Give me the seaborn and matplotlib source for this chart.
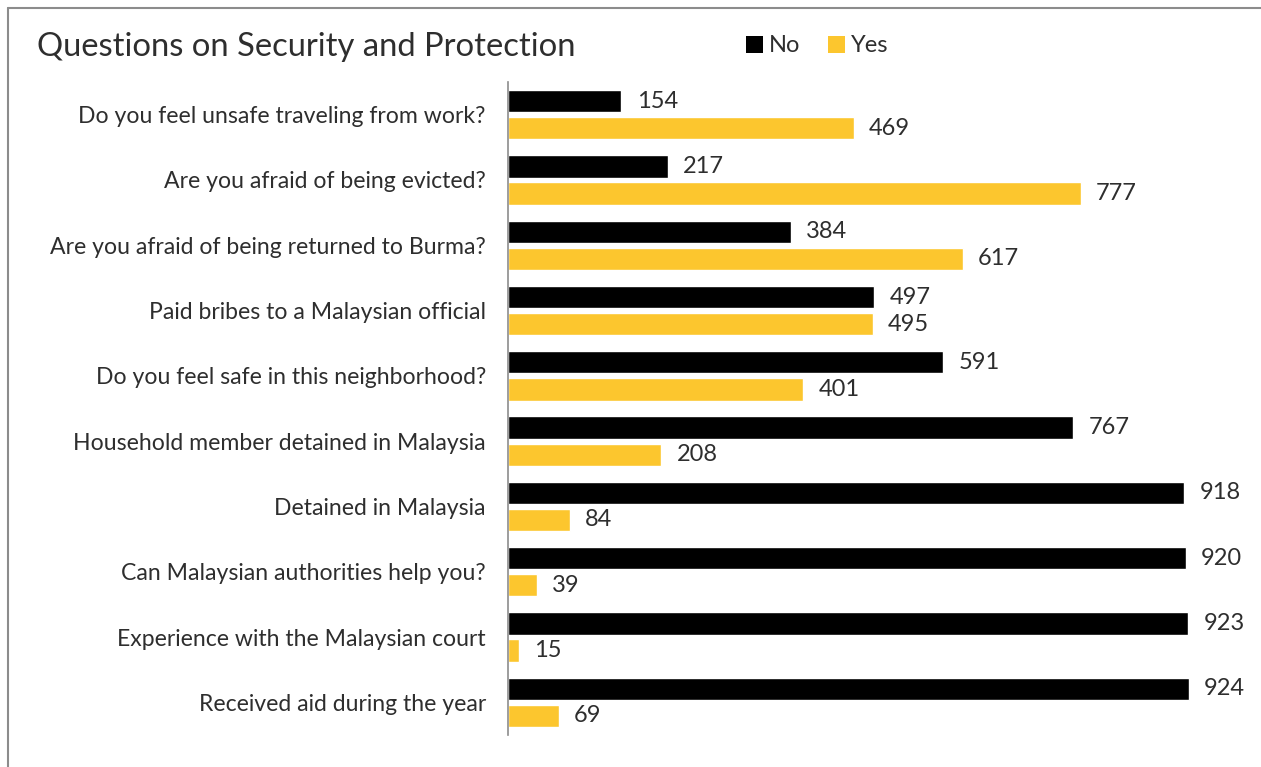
import matplotlib
matplotlib.use("Agg")
import matplotlib.pyplot as plt
from matplotlib.patches import Patch
from matplotlib.lines import Line2D
import seaborn as sns
import pandas as pd

questions = [
    "Do you feel unsafe traveling from work?",
    "Are you afraid of being evicted?",
    "Are you afraid of being returned to Burma?",
    "Paid bribes to a Malaysian official",
    "Do you feel safe in this neighborhood?",
    "Household member detained in Malaysia",
    "Detained in Malaysia",
    "Can Malaysian authorities help you?",
    "Experience with the Malaysian court",
    "Received aid during the year",
]
no_counts = [154, 217, 384, 497, 591, 767, 918, 920, 923, 924]
yes_counts = [469, 777, 617, 495, 401, 208, 84, 39, 15, 69]
answers = ["No", "Yes"]
palette = {"No": "#000000", "Yes": "#FCC62E"}

df = pd.DataFrame({
    "question": questions * 2,
    "answer": ["No"] * len(questions) + ["Yes"] * len(questions),
    "count": no_counts + yes_counts,
})

sns.set_theme(style="white")
plt.rcParams["font.family"] = ["Lato", "DejaVu Sans"]
text_color = "#2e2e2e"

fig = plt.figure(figsize=(12.61, 7.67), dpi=100)
ax = fig.add_axes([508 / 1261, 1 - 735 / 767, (1250 - 508) / 1261, (735 - 82) / 767])

sns.barplot(data=df, y="question", x="count", hue="answer", order=questions,
            hue_order=answers, palette=palette, orient="h", width=0.83, gap=0.18,
            saturation=1, legend=False, ax=ax)

ax.set_xlim(0, 1007)
ax.set_ylim(len(questions) - 0.5, -0.5)
ax.set_xlabel("")
ax.set_ylabel("")
ax.set_xticks([])
for s in ["top", "right", "bottom"]:
    ax.spines[s].set_visible(False)
ax.spines["left"].set_color("#8c8c8c")
ax.spines["left"].set_linewidth(1.2)
ax.tick_params(axis="y", length=0, pad=16, labelsize=16.6, labelcolor=text_color)

for container in ax.containers:
    ax.bar_label(container, fmt="%d", padding=11, fontsize=17, color=text_color)

fig.text(37 / 1261, 1 - 47 / 767, "Questions on Security and Protection",
         fontsize=23.6, color=text_color, va="center", ha="left")

handles = [Patch(facecolor=palette[a], edgecolor="none") for a in answers]
leg = fig.legend(handles, answers, loc="center left",
                 bbox_to_anchor=(746 / 1261, 1 - 46 / 767), ncol=2, frameon=False,
                 fontsize=17, handlelength=0.7, handleheight=0.7, handletextpad=0.25,
                 columnspacing=1.2, borderpad=0, borderaxespad=0)
for t in leg.get_texts():
    t.set_color(text_color)

# thin gray frame along the left and top edges
frame_kw = dict(transform=fig.transFigure, color="#8c8c8c", linewidth=1.5)
fig.add_artist(Line2D([8 / 1261, 8 / 1261], [0, 1 - 8 / 767], **frame_kw))
fig.add_artist(Line2D([8 / 1261, 1], [1 - 8 / 767, 1 - 8 / 767], **frame_kw))

fig.savefig("out.png", dpi=100, facecolor="white")
